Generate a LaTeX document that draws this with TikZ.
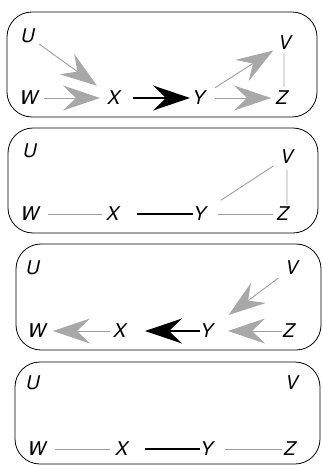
\documentclass[tikz,border=0pt]{standalone}
\usepackage{fontspec}
\setmainfont{TeX Gyre Heros}
\usetikzlibrary{arrows.meta}
\definecolor{lgray}{gray}{0.62}
\definecolor{hgray}{gray}{0.66}
\begin{document}
\begin{tikzpicture}[x=1bp,y=-1bp,
  lbl/.style={inner sep=0pt, font=\fontsize{19}{22}\selectfont\itshape},
  panel/.style={draw=black, line width=0.8bp, rounded corners=25bp},
  gline/.style={draw=lgray, line width=0.9bp},
  bline/.style={draw=black, line width=1.5bp},
  garr/.style={gline, -{Stealth[length=37bp, width=25bp, inset=13bp, fill=hgray, color=hgray]}},
  barr/.style={bline, -{Stealth[length=37bp, width=25bp, inset=13bp, fill=black]}}
]
\useasboundingbox (0,0) rectangle (322,465);

% ---------- Panel 1 ----------
\draw[panel] (7,12) rectangle (317,117);
\node[lbl] (U1) at (28,36) {U};
\node[lbl] (W1) at (29,98) {W};
\node[lbl] (X1) at (114,98) {X};
\node[lbl] (Y1) at (199,98) {Y};
\node[lbl] (Z1) at (282,98) {Z};
\node[lbl] (V1) at (285,43) {V};
\draw[garr, shorten <=14bp, shorten >=21bp] (U1.center) -- (X1.center);
\draw[garr, shorten <=15bp, shorten >=14bp] (W1.center) -- (X1.center);
\draw[barr, shorten <=19bp, shorten >=9bp] (X1.center) -- (Y1.center);
\draw[garr, shorten <=19bp, shorten >=14bp] (Y1.center) -- (V1.center);
\draw[garr, shorten <=16bp, shorten >=11bp] (Y1.center) -- (Z1.center);
\draw[gline, shorten <=10bp, shorten >=11bp] ([xshift=-1bp]V1.center) -- ([xshift=2bp]Z1.center);

% ---------- Panel 2 ----------
\draw[panel] (8,128) rectangle (318,233);
\node[lbl] (U2) at (30,151) {U};
\node[lbl] (V2) at (287,157) {V};
\node[lbl] (W2) at (30,214) {W};
\node[lbl] (X2) at (113,214) {X};
\node[lbl] (Y2) at (200,214) {Y};
\node[lbl] (Z2) at (283,214) {Z};
\draw[gline, shorten <=18bp, shorten >=11bp] (W2.center) -- (X2.center);
\draw[bline, shorten <=24bp, shorten >=7bp] (X2.center) -- (Y2.center);
\draw[gline, shorten <=25bp, shorten >=16bp] (Y2.center) -- (V2.center);
\draw[gline, shorten <=18bp, shorten >=10bp] (Y2.center) -- (Z2.center);
\draw[gline, shorten <=13bp, shorten >=9bp] (V2.center) -- ([xshift=4bp]Z2.center);

% ---------- Panel 3 ----------
\draw[panel] (16,244) rectangle (321,350);
\node[lbl] (U3) at (33,268) {U};
\node[lbl] (V3) at (292,268) {V};
\node[lbl] (W3) at (37,331) {W};
\node[lbl] (X3) at (120,331) {X};
\node[lbl] (Y3) at (207,331) {Y};
\node[lbl] (Z3) at (289,331) {Z};
\draw[garr, shorten <=10bp, shorten >=16bp] (X3.center) -- (W3.center);
\draw[barr, shorten <=7bp, shorten >=25bp] (Y3.center) -- (X3.center);
\draw[garr, shorten <=7bp, shorten >=21bp] (Z3.center) -- (Y3.center);
\draw[garr, shorten <=17bp, shorten >=27bp] (V3.center) -- (Y3.center);

% ---------- Panel 4 ----------
\draw[panel] (15,362) rectangle (320,464);
\node[lbl] (U4) at (33,383) {U};
\node[lbl] (V4) at (292,383) {V};
\node[lbl] (W4) at (37,449) {W};
\node[lbl] (X4) at (122,449) {X};
\node[lbl] (Y4) at (207,449) {Y};
\node[lbl] (Z4) at (290,449) {Z};
\draw[gline, shorten <=18bp, shorten >=12bp] (W4.center) -- (X4.center);
\draw[bline, shorten <=23bp, shorten >=7bp] (X4.center) -- (Y4.center);
\draw[gline, shorten <=18bp, shorten >=8bp] (Y4.center) -- (Z4.center);
\end{tikzpicture}
\end{document}
